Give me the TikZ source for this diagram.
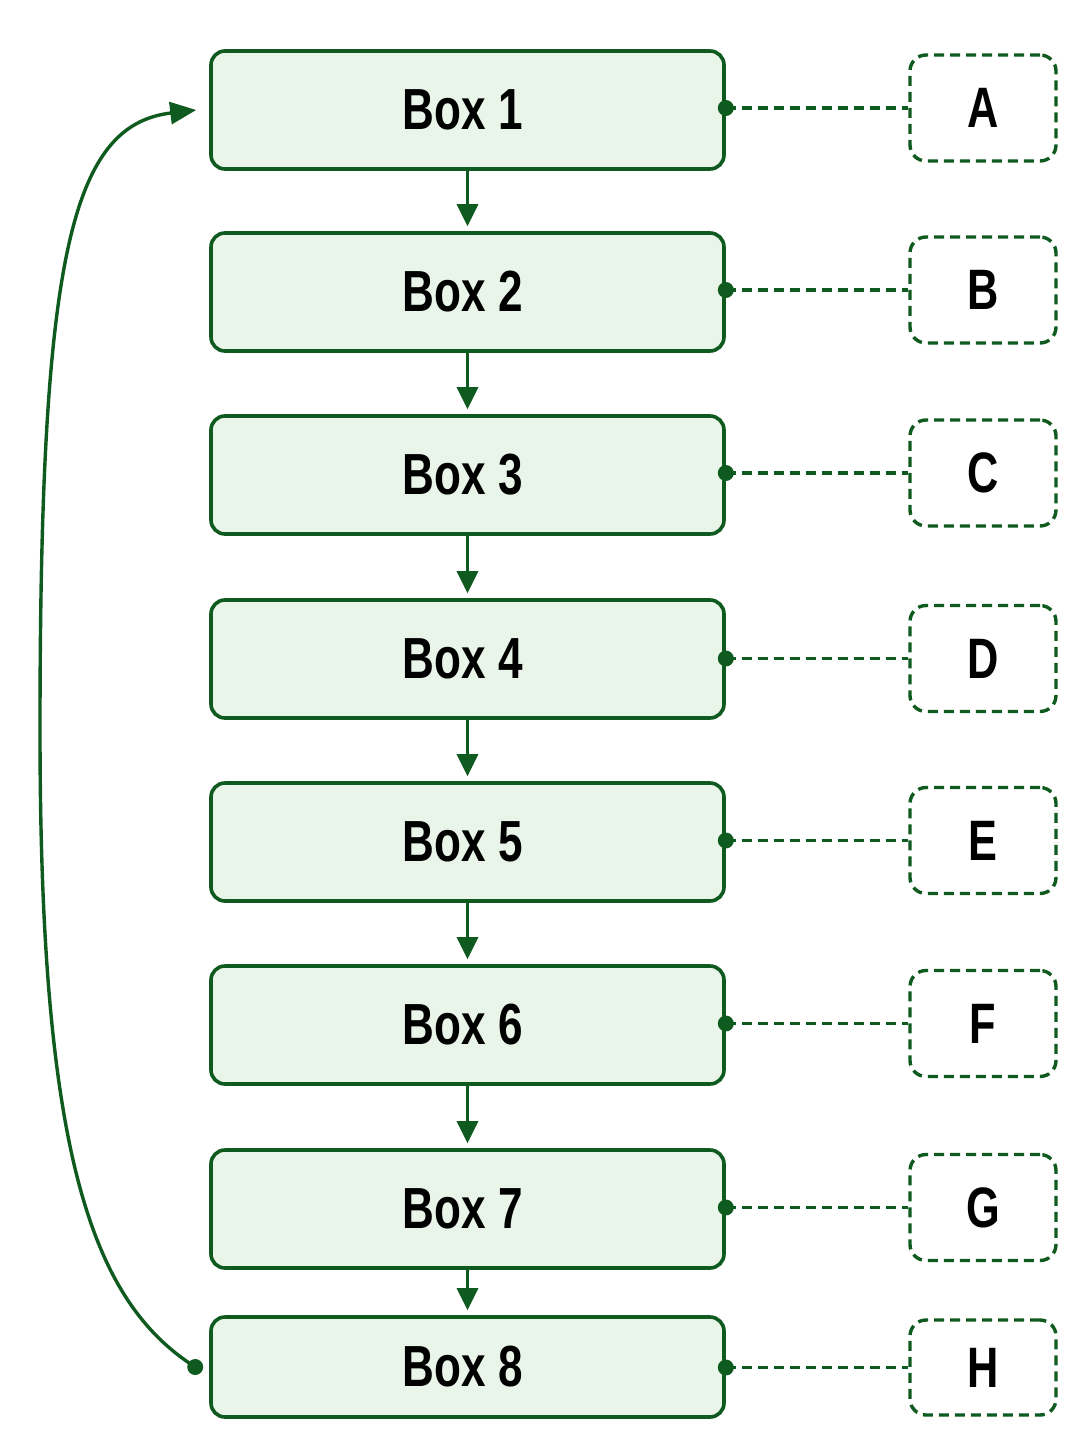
\documentclass[tikz,border=0pt]{standalone}
\usepackage{fontspec}
\setmainfont[FakeStretch=0.76]{Liberation Sans}
\usetikzlibrary{arrows.meta,calc}
\definecolor{dgreen}{HTML}{0F5A1E}
\definecolor{lgreen}{HTML}{EAF5EA}
\tikzset{
  mainbox/.style={draw=dgreen, fill=lgreen, line width=3.6pt, rounded corners=14pt,
    minimum width=513pt, minimum height=118pt, inner sep=0pt,
    font=\fontsize{58}{60}\selectfont\bfseries, text=black},
  sidebox/.style={draw=dgreen, line width=3.4pt, rounded corners=16pt, dash pattern=on 10pt off 6pt,
    minimum width=146pt, minimum height=106pt, inner sep=0pt,
    font=\fontsize{57}{60}\selectfont\bfseries, text=black},
  flow/.style={draw=dgreen, line width=3.4pt, -{Triangle[length=22pt,width=21pt]}},
  link/.style={draw=dgreen, line width=3.4pt, dash pattern=on 10pt off 6pt},
  dotmark/.style={fill=dgreen, draw=none},
}
\begin{document}
\begin{tikzpicture}[x=1pt,y=-1pt]
\useasboundingbox (0,0) rectangle (1085,1450);
\fill[white] (0,0) rectangle (1085,1450);
% main boxes
\node[mainbox] (b1) at (467.5,110) {\hspace*{-9pt}Box 1};
\node[mainbox] (b2) at (467.5,292) {\hspace*{-9pt}Box 2};
\node[mainbox] (b3) at (467.5,475) {\hspace*{-9pt}Box 3};
\node[mainbox] (b4) at (467.5,659) {\hspace*{-9pt}Box 4};
\node[mainbox] (b5) at (467.5,842) {\hspace*{-9pt}Box 5};
\node[mainbox] (b6) at (467.5,1025) {\hspace*{-9pt}Box 6};
\node[mainbox] (b7) at (467.5,1209) {\hspace*{-9pt}Box 7};
\node[mainbox, minimum height=100pt] (b8) at (467.5,1367) {\hspace*{-9pt}Box 8};
% side boxes
\node[sidebox] (rA) at (983,108) {A};
\node[sidebox] (rB) at (983,290) {B};
\node[sidebox] (rC) at (983,473) {C};
\node[sidebox] (rD) at (983,658.5) {D};
\node[sidebox] (rE) at (983,840.5) {E};
\node[sidebox] (rF) at (983,1023.5) {F};
\node[sidebox] (rG) at (983,1207.5) {G};
\node[sidebox, minimum height=95pt] (rH) at (983,1367.5) {H};
% flow arrows
\foreach \a/\b in {b1/b2,b2/b3,b3/b4,b4/b5,b5/b6,b6/b7,b7/b8}
  \draw[flow, shorten >=5pt] (\a.south) -- (\b.north);
% dashed links with dots
\foreach \b/\r in {b1/rA,b2/rB,b3/rC,b4/rD,b5/rE,b6/rF,b7/rG,b8/rH}{
  \coordinate (d\b) at (\b.east |- \r.west);
  \draw[link] (d\b) -- (\r.west);
  \fill[dotmark] (d\b) circle (8pt);
}
% loop back
\coordinate (ls) at ([xshift=-14pt]b8.west);
\coordinate (le) at ([xshift=-13pt]b1.west);
\draw[draw=dgreen, line width=3.4pt, -{Triangle[length=26pt,width=22pt]}]
  (ls) .. controls (90,1300) and (40,1150) .. (40,730)
       .. controls (40,260) and (70,125) .. (le);
\fill[dotmark] (ls) circle (8pt);
\end{tikzpicture}
\end{document}
